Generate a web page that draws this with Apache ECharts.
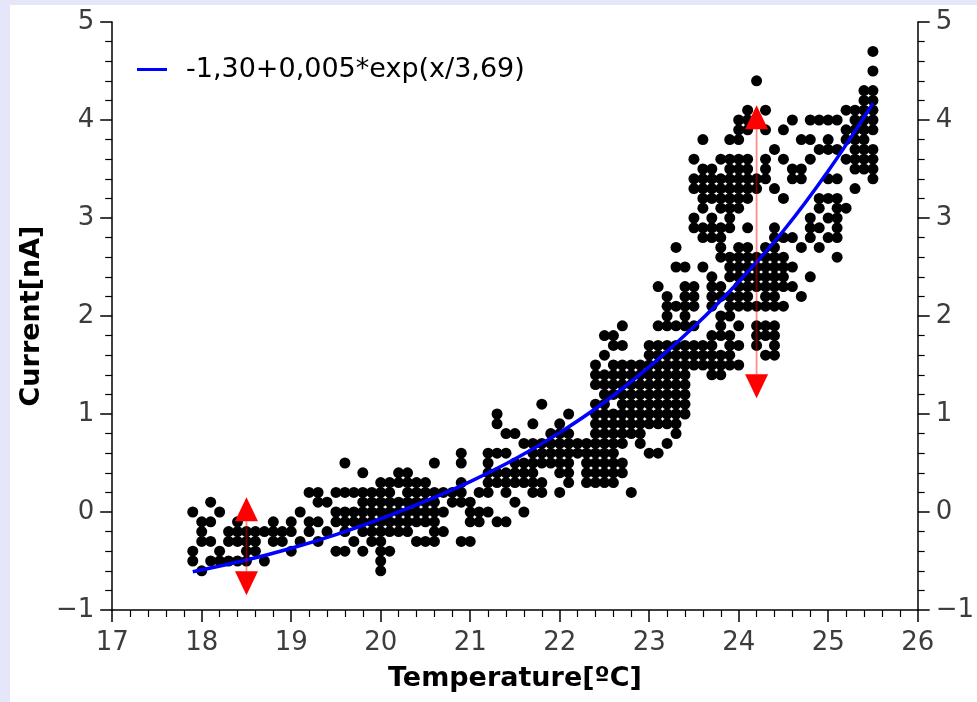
<!DOCTYPE html>
<html>
<head>
<meta charset="utf-8">
<title>Current vs temperature</title>
<script src="https://cdn.jsdelivr.net/npm/echarts@6/dist/echarts.min.js"></script>
<style>
  html, body { margin: 0; padding: 0; background: #e6e6fa; }
  #main { position: absolute; left: 10px; top: 5px; width: 967px; height: 697px; background: #fff; }
</style>
</head>
<body>
<div id="main"></div>
<script type="text/javascript">
// measured points, one entry per temperature column: [x, [currents...]]
var colsLow = [
    [17.9, [0, -0.4, -0.5]],
    [18.0, [-0.1, -0.2, -0.3, -0.6]],
    [18.1, [0.1, -0.1, -0.3, -0.5]],
    [18.2, [0, -0.4, -0.5]],
    [18.3, [-0.2, -0.3, -0.5]],
    [18.4, [-0.1, -0.2, -0.3, -0.5]],
    [18.5, [-0.2, -0.3, -0.4, -0.5]],
    [18.6, [-0.2, -0.3, -0.4]],
    [18.7, [-0.2, -0.5]],
    [18.8, [-0.1, -0.2, -0.3]],
    [18.9, [-0.2, -0.3]],
    [19.0, [-0.1, -0.2, -0.4]],
    [19.1, [0, -0.3]],
    [19.2, [0.2, -0.1, -0.2]],
    [19.3, [0.2, 0.1, -0.1, -0.3]],
    [19.4, [0.1, -0.2]],
    [19.5, [0.2, 0, -0.1, -0.4]],
    [19.6, [0.5, 0.2, 0, -0.1, -0.2, -0.4]],
    [19.7, [0.2, 0, -0.1, -0.3]],
    [19.8, [0.4, 0.2, 0.1, 0, -0.1, -0.2, -0.4]],
    [19.9, [0.2, 0.1, 0, -0.1, -0.2, -0.3]],
    [20.0, [0.3, 0.2, 0.1, 0, -0.1, -0.2, -0.3, -0.4, -0.5, -0.6]]
];
var colsMid = [
    [20.1, [0.3, 0.2, 0.1, 0, -0.1, -0.2, -0.4]],
    [20.2, [0.4, 0.3, 0.1, 0, -0.1, -0.2]],
    [20.3, [0.4, 0.3, 0.2, 0.1, 0, -0.1, -0.2]],
    [20.4, [0.3, 0.2, 0.1, 0, -0.1, -0.3]],
    [20.5, [0.3, 0.2, 0.1, 0, -0.1, -0.3]],
    [20.6, [0.5, 0.2, 0.1, 0, -0.1, -0.2, -0.3]],
    [20.7, [0.2, 0, -0.2]],
    [20.8, [0.2, 0.1]],
    [20.9, [0.6, 0.5, 0.3, 0.2, 0.1, -0.3]],
    [21.0, [0.1, 0, -0.1, -0.3]],
    [21.1, [0.2, 0, -0.1]],
    [21.2, [0.6, 0.5, 0.4, 0.3, 0.2, 0]],
    [21.3, [1.0, 0.9, 0.6, 0.4, 0.3, -0.1]],
    [21.4, [0.8, 0.6, 0.4, 0.3, 0.2, -0.1]],
    [21.5, [0.8, 0.5, 0.4, 0.3, 0.1]],
    [21.6, [0.7, 0.5, 0.4, 0.3, 0]],
    [21.7, [0.9, 0.7, 0.6, 0.5, 0.4, 0.3, 0.2]],
    [21.8, [1.1, 0.7, 0.6, 0.5, 0.3, 0.2]],
    [21.9, [0.8, 0.7, 0.6, 0.5]],
    [22.0, [0.9, 0.8, 0.7, 0.6, 0.5, 0.4, 0.2]],
    [22.1, [1.0, 0.8, 0.7, 0.6, 0.5, 0.4, 0.3]],
    [22.2, [0.7, 0.6]],
    [22.3, [0.7, 0.6, 0.5, 0.4, 0.3]],
    [22.4, [1.5, 1.4, 1.3, 1.1, 1.0, 0.9, 0.8, 0.7, 0.6, 0.5, 0.4, 0.3]]
];
var colsRise = [
    [22.5, [1.8, 1.6, 1.4, 1.3, 1.2, 1.1, 1.0, 0.9, 0.8, 0.7, 0.6, 0.5, 0.4, 0.3]],
    [22.6, [1.8, 1.7, 1.5, 1.4, 1.3, 1.2, 1.0, 0.9, 0.8, 0.7, 0.6, 0.5, 0.4, 0.3]],
    [22.7, [1.9, 1.7, 1.5, 1.4, 1.3, 1.2, 1.1, 1.0, 0.9, 0.8, 0.7, 0.5, 0.4]],
    [22.8, [1.5, 1.4, 1.3, 1.2, 1.1, 1.0, 0.9, 0.8, 0.2]],
    [22.9, [1.5, 1.4, 1.3, 1.2, 1.1, 1.0, 0.9, 0.8, 0.7]],
    [23.0, [1.7, 1.6, 1.5, 1.4, 1.3, 1.2, 1.1, 1.0, 0.9, 0.6]],
    [23.1, [2.3, 1.9, 1.7, 1.6, 1.5, 1.4, 1.3, 1.2, 1.1, 1.0, 0.9, 0.6]],
    [23.2, [2.2, 2.1, 2.0, 1.9, 1.7, 1.6, 1.5, 1.4, 1.3, 1.2, 1.1, 1.0, 0.9, 0.7]],
    [23.3, [2.7, 2.5, 2.1, 1.9, 1.7, 1.6, 1.5, 1.4, 1.3, 1.2, 1.1, 1.0, 0.9, 0.8]],
    [23.4, [2.5, 2.3, 2.2, 2.1, 2.0, 1.9, 1.7, 1.6, 1.5, 1.4, 1.3, 1.2, 1.1, 1.0]],
    [23.5, [3.6, 3.4, 3.3, 3.0, 2.9, 2.3, 2.2, 2.1, 1.9, 1.7, 1.6, 1.5]]
];
var colsHigh = [
    [23.6, [3.8, 3.5, 3.4, 3.3, 3.2, 3.1, 2.9, 2.8, 2.5, 1.7, 1.6, 1.5]],
    [23.7, [3.5, 3.4, 3.3, 3.2, 3.0, 2.9, 2.8, 2.4, 2.3, 2.2, 2.1, 1.8, 1.7, 1.6, 1.5, 1.4]],
    [23.8, [3.6, 3.4, 3.3, 3.2, 3.1, 2.9, 2.8, 2.7, 2.6, 2.3, 2.2, 2.0, 1.9, 1.8, 1.6, 1.5, 1.4]],
    [23.9, [3.8, 3.6, 3.5, 3.4, 3.3, 3.2, 3.1, 3.0, 2.9, 2.6, 2.5, 2.4, 2.2, 2.1, 2.0, 1.8, 1.7, 1.6, 1.5]],
    [24.0, [4.0, 3.9, 3.8, 3.6, 3.5, 3.4, 3.3, 3.2, 3.1, 2.7, 2.6, 2.5, 2.4, 2.3, 2.2, 2.1, 1.9, 1.7, 1.5]],
    [24.1, [4.1, 4.0, 3.9, 3.6, 3.5, 3.4, 3.3, 3.2, 2.9, 2.7, 2.6, 2.5, 2.4, 2.3, 2.2, 2.1]],
    [24.2, [4.4, 3.4, 3.3, 2.6, 2.5, 2.4, 2.3, 2.1, 1.9, 1.8, 1.7]],
    [24.3, [4.1, 3.9, 3.6, 3.5, 3.4, 2.7, 2.6, 2.5, 2.4, 2.3, 2.2, 2.1, 1.9, 1.8, 1.6]],
    [24.4, [3.7, 3.3, 2.9, 2.8, 2.7, 2.6, 2.5, 2.4, 2.3, 2.2, 2.1, 1.9, 1.8, 1.7, 1.6]],
    [24.5, [3.9, 3.6, 3.2, 2.8, 2.6, 2.5, 2.4, 2.3, 2.1]],
    [24.6, [4.0, 3.5, 3.4, 2.8, 2.5, 2.3]],
    [24.7, [3.8, 3.5, 3.4, 2.7, 2.2]],
    [24.8, [4.0, 3.8, 3.6, 3.0, 2.9, 2.8, 2.4]],
    [24.9, [4.0, 3.7, 3.2, 3.1, 2.9, 2.7]],
    [25.0, [4.0, 3.8, 3.7, 3.4, 3.2, 3.0, 2.8]],
    [25.1, [4.0, 3.7, 3.4, 3.2, 3.1, 3.0, 2.9, 2.8, 2.6]],
    [25.2, [4.1, 3.9, 3.8, 3.6, 3.1]],
    [25.3, [4.1, 4.0, 3.9, 3.8, 3.7, 3.6, 3.5, 3.3]],
    [25.4, [4.3, 4.2, 4.1, 4.0, 3.9, 3.8, 3.7, 3.6, 3.5]],
    [25.5, [4.7, 4.5, 4.3, 4.2, 4.1, 4.0, 3.9, 3.7, 3.6, 3.5, 3.4]]
];

// fitted curve
var fitName = '-1,30+0,005*exp(x/3,69)';
var fitX = [17.9, 18.5, 19.0, 19.5, 20.0, 20.5, 21.0, 21.5, 22.0, 22.5, 23.0, 23.5, 24.0, 24.5, 25.0, 25.5];
var fitY = [-0.61, -0.49, -0.37, -0.23, -0.07, 0.11, 0.31, 0.54, 0.81, 1.12, 1.48, 1.89, 2.35, 2.87, 3.48, 4.17];

// spread arrows
var arrowX = [18.5, 24.2];
var arrowLow = [-0.85, 1.16];
var arrowHigh = [0.15, 4.15];

var points = [];
[colsLow, colsMid, colsRise, colsHigh].forEach(function (cols) {
    cols.forEach(function (c) {
        c[1].forEach(function (y) { points.push([c[0], y]); });
    });
});
var fitData = fitX.map(function (x, i) { return [x, fitY[i]]; });
var arrowData = arrowX.map(function (x, i) { return [x, arrowLow[i], arrowHigh[i]]; });

var tickFont = { fontFamily: 'DejaVu Sans', fontSize: 26, color: '#3c3c3c' };
function minusFmt(v) { return v < 0 ? '\u2212' + Math.abs(v) : String(v); }

var myChart = echarts.init(document.getElementById('main'));

var yCommon = {
    type: 'value',
    min: -1,
    max: 5,
    interval: 1,
    splitLine: { show: false },
    axisLine: { show: true, onZero: false, lineStyle: { color: '#000', width: 1.5 } },
    axisTick: { show: true, length: 12, lineStyle: { color: '#000', width: 1.5 } },
    minorTick: { show: true, splitNumber: 5, length: 7, lineStyle: { color: '#000', width: 1.2 } }
};

var option = {
    animation: false,
    grid: { left: 101, right: 56, top: 17, bottom: 92 },
    legend: {
        left: 122,
        top: 46,
        data: [fitName],
        icon: 'rect',
        itemWidth: 30,
        itemHeight: 3,
        textStyle: { fontFamily: 'DejaVu Sans', fontSize: 27, color: '#000', padding: [0, 0, 0, 14] }
    },
    xAxis: {
        type: 'value',
        min: 17,
        max: 26,
        interval: 1,
        name: 'Temperature[ºC]',
        nameLocation: 'middle',
        nameGap: 55,
        nameTextStyle: { fontFamily: 'DejaVu Sans', fontSize: 27, fontWeight: 'bold', color: '#000' },
        splitLine: { show: false },
        axisLine: { show: true, onZero: false, lineStyle: { color: '#000', width: 1.5 } },
        axisTick: { show: true, length: 12, lineStyle: { color: '#000', width: 1.5 } },
        minorTick: { show: true, splitNumber: 5, length: 7, lineStyle: { color: '#000', width: 1.2 } },
        axisLabel: Object.assign({ margin: 20 }, tickFont)
    },
    yAxis: [
        Object.assign({}, yCommon, {
            position: 'left',
            name: 'Current[nA]',
            nameLocation: 'middle',
            nameGap: 61,
            nameTextStyle: { fontFamily: 'DejaVu Sans', fontSize: 27, fontWeight: 'bold', color: '#000' },
            axisLabel: Object.assign({ margin: 18, formatter: minusFmt }, tickFont)
        }),
        Object.assign({}, yCommon, {
            position: 'right',
            axisLabel: Object.assign({ margin: 18, formatter: minusFmt }, tickFont)
        })
    ],
    series: [
        {
            name: 'data',
            type: 'scatter',
            data: points,
            symbolSize: 11,
            itemStyle: { color: '#000', opacity: 1 },
            z: 2
        },
        {
            name: fitName,
            type: 'line',
            data: fitData,
            smooth: 0.4,
            showSymbol: false,
            lineStyle: { color: '#0000ff', width: 3.5 },
            itemStyle: { color: '#0000ff' },
            z: 3
        },
        {
            name: 'spread',
            type: 'custom',
            data: arrowData,
            encode: { x: 0, y: [1, 2] },
            z: 4,
            renderItem: function (params, api) {
                var top = api.coord([api.value(0), api.value(2)]);
                var bot = api.coord([api.value(0), api.value(1)]);
                var hl = 24, hw = 11.5;
                return {
                    type: 'group',
                    children: [
                        { type: 'line', shape: { x1: top[0], y1: top[1] + hl, x2: bot[0], y2: bot[1] - hl },
                          style: { stroke: 'rgba(255,0,0,0.45)', lineWidth: 1.8 } },
                        { type: 'polygon', shape: { points: [[top[0], top[1]], [top[0] - hw, top[1] + hl], [top[0] + hw, top[1] + hl]] },
                          style: { fill: '#ff0000' } },
                        { type: 'polygon', shape: { points: [[bot[0], bot[1]], [bot[0] - hw, bot[1] - hl], [bot[0] + hw, bot[1] - hl]] },
                          style: { fill: '#ff0000' } }
                    ]
                };
            }
        }
    ]
};

myChart.setOption(option);
</script>
</body>
</html>
